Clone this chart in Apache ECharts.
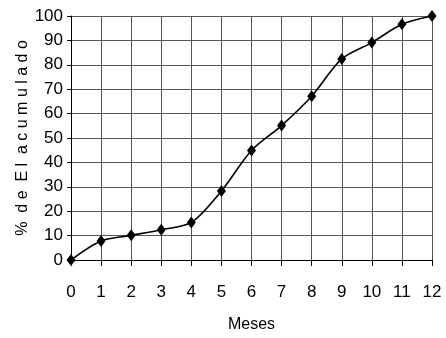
<!DOCTYPE html>
<html>
<head>
<meta charset="utf-8">
<script src="https://cdn.jsdelivr.net/npm/echarts@6/dist/echarts.min.js"></script>
<style>
  html, body { margin: 0; padding: 0; background: #fff; }
  #chart { width: 446px; height: 338px; }
</style>
</head>
<body>
<div id="chart"></div>
<script>
// Months and cumulative percentage
const months = [0, 1, 2, 3, 4, 5, 6, 7, 8, 9, 10, 11, 12];
const cumulative = [0, 7.8, 10.1, 12.4, 15.4, 28.3, 44.9, 55.1, 67.1, 82.4, 89.1, 96.6, 100];
const yTicks = [0, 10, 20, 30, 40, 50, 60, 70, 80, 90, 100];

const font = '"Liberation Sans Narrow", "Arial Narrow", "Liberation Sans", sans-serif';

const chart = echarts.init(document.getElementById('chart'), null, { renderer: 'canvas' });
chart.setOption({
  animation: false,
  grid: { left: 71, right: 14, top: 16, bottom: 77, containLabel: false },
  xAxis: {
    type: 'value',
    min: 0, max: 12, interval: 1,
    name: 'Meses',
    nameLocation: 'middle',
    nameGap: 57,
    nameMoveOverlap: false,
    nameTextStyle: { fontFamily: font, fontSize: 16, color: '#000' },
    axisLine: { show: true, lineStyle: { color: '#000', width: 1 } },
    axisTick: { show: true, inside: false, length: 6, lineStyle: { color: '#000' } },
    axisLabel: { fontFamily: font, fontSize: 17, color: '#000', margin: 24 },
    splitLine: { show: true, lineStyle: { color: '#555', width: 1 } }
  },
  yAxis: {
    type: 'value',
    min: 0, max: 100, interval: 10,
    name: '%  d e  E l  a c u m u l a d o',
    nameLocation: 'middle',
    nameGap: 40,
    nameMoveOverlap: false,
    nameTextStyle: { fontFamily: font, fontSize: 16, color: '#000' },
    axisLine: { show: true, lineStyle: { color: '#000', width: 1 } },
    axisTick: { show: true, length: 4, lineStyle: { color: '#000' } },
    axisLabel: {
      fontFamily: font, fontSize: 17, color: '#000', margin: 8,
      formatter: v => (yTicks.includes(v) ? String(v) : '')
    },
    splitLine: { show: true, lineStyle: { color: '#555', width: 1 } }
  },
  series: [{
    type: 'line',
    data: months.map((m, i) => [m, cumulative[i]]),
    smooth: 0.3,
    symbol: 'diamond',
    symbolSize: [9, 12],
    itemStyle: { color: '#000' },
    lineStyle: { color: '#000', width: 1.6 },
    clip: false
  }]
});
</script>
</body>
</html>
